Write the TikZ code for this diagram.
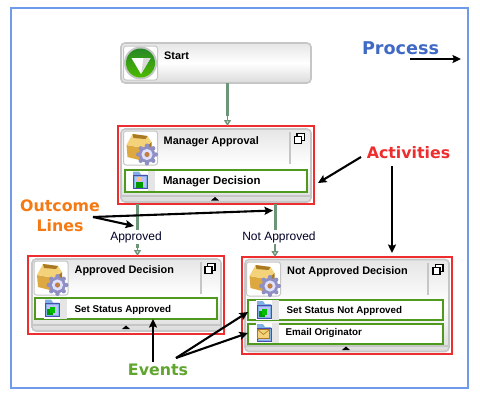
\documentclass[tikz,border=0pt]{standalone}
\usepackage{fontspec}
\setmainfont{Liberation Sans}
\newfontfamily\callfont{DejaVu Sans}
\usetikzlibrary{arrows.meta,calc}
\definecolor{frameblue}{HTML}{6F9BEA}
\definecolor{procblue}{HTML}{3F69C4}
\definecolor{actred}{HTML}{EE2E2E}
\definecolor{evgreen}{HTML}{5FA52E}
\definecolor{outorange}{HTML}{F57A14}
\definecolor{linegreen}{HTML}{6D9679}
\definecolor{boxgreen}{HTML}{4F9A1E}
\definecolor{boxgrey}{HTML}{C6C6C6}
\definecolor{goldmid}{HTML}{DDA83F}
\definecolor{goldlight}{HTML}{F3D27A}
\definecolor{golddark}{HTML}{A97A22}
\definecolor{gearblue}{HTML}{8F8FC4}
\definecolor{folderblue}{HTML}{7FB0E4}
\tikzset{
  greybox/.style={draw=boxgrey,line width=1.6pt,rounded corners=4pt,top color=gray!20,bottom color=gray!28,middle color=white,inner sep=0pt},
  redframe/.style={draw=actred,line width=2pt,inner sep=0pt},
  eventbox/.style={draw=boxgreen,line width=2pt,fill=white,inner sep=0pt},
  iconframe/.style={draw=boxgrey,line width=1pt,fill=white,rounded corners=2.5pt},
  title/.style={font=\bfseries\fontsize{10.9}{13}\selectfont,anchor=west,inner sep=0pt,text=black},
  evtext/.style={font=\bfseries\fontsize{9.8}{12}\selectfont,anchor=west,inner sep=0pt,text=black},
  flow/.style={draw=linegreen,line width=3pt},
  flowarrow/.style={draw=linegreen,line width=1.4pt,-{Triangle[open,length=6pt,width=7pt]}},
  flowlabel/.style={font=\fontsize{12}{14}\selectfont,inner sep=0pt,text=black!85!blue},
  callout/.style={draw=black,line width=2.1pt,-{Stealth[length=8.5pt,width=8pt,inset=1.5pt]}},
  calltext/.style={font=\callfont\bfseries\fontsize{15.8}{20}\selectfont,inner sep=0pt,align=center},
  startglyph/.pic={
    \draw[iconframe] (-17,-17) rectangle (17,17);
    \fill[gray!45] (0,0) circle (16.5);
    \shade[top color=green!45!black!85,bottom color=green!55!black!60!lime] (0,0) circle (14.5);
    \fill[white] (-9,-5) -- (10,-5) -- (0.5,11) -- cycle;
    \fill[gray!30] (3,-5) -- (10,-5) -- (0.5,11) -- cycle;
  },
  caseglyph/.pic={
    \draw[iconframe] (-17,-17) rectangle (17,17);
    \fill[goldmid] (-14,-3) -- (3,0) -- (3,13) -- (-13,9) -- cycle;
    \fill[golddark] (3,0) -- (11,-6) -- (11,7) -- (3,13) -- cycle;
    \fill[goldlight] (-14,-3) -- (-8,-14) -- (7,-12) -- (11,-6) -- (3,0) -- cycle;
    \fill[golddark] (-8,-14) -- (7,-12) -- (5,-9) -- (-7,-10) -- cycle;
  },
  gearglyph/.pic={
    \foreach \a in {0,45,...,315}{\fill[gearblue] (\a:8.8) circle (2.2);}
    \fill[gearblue] (0,0) circle (8.2);
    \fill[blue!12] (0,0) circle (5.6);
    \fill[orange!50!gray] (0,0) circle (2.6);
  },
  folderglyph/.pic={
    \fill[gray!20] (-8,-10) rectangle (15,10);
    \fill[white] (-8,-10) rectangle (8,10);
    \fill[folderblue] (-7,-9) -- (-1,-9) -- (1,-6) -- (7,-6) -- (7,8) -- (-7,8) -- cycle;
    \draw[blue!40!gray,line width=.7pt] (-7,-5) rectangle (7,8);
    \fill[white!75!blue] (-5.5,-3.5) rectangle (5.5,6.5);
  },
  statusmark/.pic={
    \fill[green!60!black] (-5,-1) rectangle (1,5);
    \fill[green!75!black] (-2,-3) rectangle (3,3);
  },
  personmark/.pic={
    \fill[orange!50!white] (0,-2.5) circle (2.4);
    \fill[green!60!black] (-3.5,0) rectangle (3.5,6.5);
  },
  mailmark/.pic={
    \fill[goldlight] (-6,-4.5) rectangle (6,4.5);
    \draw[golddark,line width=.6pt] (-6,-4.5) rectangle (6,4.5) (-6,-4.5) -- (0,.5) -- (6,-4.5);
  },
  maximize/.pic={
    \draw[black,line width=1.4pt,fill=white] (-2.5,-5) rectangle (5,2);
    \draw[black,line width=1.4pt,fill=white] (-5,-2) rectangle (2,5);
  }
}
\begin{document}
\begin{tikzpicture}[x=1pt,y=-1pt]
\useasboundingbox (0,0) rectangle (480,400);
\fill[white] (0,0) rectangle (480,400);
\node[draw=frameblue,line width=2.6pt,minimum width=457pt,minimum height=380pt,inner sep=0pt] (process) at (239.5,198) {};

% Start
\node[greybox,minimum width=190pt,minimum height=40pt] (start) at (216,63) {};
\pic at (140.5,63) {startglyph};
\node[title] (starttxt) at (164,56) {Start};

% Manager Approval
\node[redframe,minimum width=196pt,minimum height=78pt] (mgrframe) at (216,165) {};
\node[greybox,minimum width=190pt,minimum height=73pt] (mgr) at (216,165.5) {};
\draw[boxgrey,line width=1.2pt] (121,196) -- (311,196);
\draw[boxgrey,line width=1.4pt] (290,132) -- (290,164);
\pic at (299.5,138.5) {maximize};
\pic at (140.5,148) {caseglyph};
\pic at (147,154.5) {gearglyph};
\node[title] (mgrtxt) at (163.5,141.5) {Manager Approval};
\node[eventbox,minimum width=182pt,minimum height=22pt] (mgrev) at (216,181) {};
\pic at (140,180.5) {folderglyph};
\pic at (139.5,181.5) {personmark};
\node[evtext,font=\bfseries\fontsize{11.4}{13}\selectfont] (mgrevtxt) at (162.8,182) {Manager Decision};
\fill[black] (211,200.5) -- (215,197) -- (219,200.5) -- cycle;

% Approved Decision
\node[redframe,minimum width=196pt,minimum height=78pt] (appframe) at (126,295) {};
\node[greybox,minimum width=189pt,minimum height=72pt] (app) at (126.5,295) {};
\draw[boxgrey,line width=1.2pt] (32,325) -- (221,325);
\draw[boxgrey,line width=1.4pt] (201,262) -- (201,294);
\pic at (210,268.5) {maximize};
\pic at (51,278) {caseglyph};
\pic at (57.5,285) {gearglyph};
\node[title] (apptxt) at (74.5,271) {Approved Decision};
\node[eventbox,minimum width=182pt,minimum height=21pt] (appev) at (126,308.5) {};
\pic at (52,308.5) {folderglyph};
\pic at (51.5,310) {statusmark};
\node[evtext] (appevtxt) at (74.5,309.5) {Set Status Approved};
\fill[black] (122,329) -- (126,325.5) -- (130,329) -- cycle;

% Not Approved Decision
\node[redframe,minimum width=210pt,minimum height=97pt] (notframe) at (347,305.5) {};
\node[greybox,minimum width=204pt,minimum height=92pt] (not) at (347,305.5) {};
\draw[boxgrey,line width=1.2pt] (245,346) -- (449,346);
\draw[boxgrey,line width=1.4pt] (428,263) -- (428,295);
\pic at (438,269.5) {maximize};
\pic at (263.5,279) {caseglyph};
\pic at (270,286) {gearglyph};
\node[title] (nottxt) at (287,272) {Not Approved Decision};
\node[eventbox,minimum width=195pt,minimum height=20pt] (notev1) at (345.5,310) {};
\pic at (264,310) {folderglyph};
\pic at (263.5,311.5) {statusmark};
\node[evtext] (notev1txt) at (286.5,310.5) {Set Status Not Approved};
\node[eventbox,minimum width=195pt,minimum height=20pt] (notev2) at (345.5,333.5) {};
\pic at (264,333) {folderglyph};
\pic at (263.5,334) {mailmark};
\node[evtext] (notev2txt) at (285.5,332.5) {Email Originator};
\fill[black] (342,350) -- (346,346.5) -- (350,350) -- cycle;

% Flow connectors
\coordinate (s0) at (227.5,83);
\coordinate (s1) at (227.5,116);
\coordinate (s2) at (227.5,126);
\draw[flow] (s0) -- (s1);
\draw[flowarrow] (s1) -- (s2);

\coordinate (a1) at (137.5,204);
\coordinate (a2) at (137.5,245);
\coordinate (a3) at (137.5,256);
\node[flowlabel] (applbl) at (136,237) {Approved};
\draw[flow] (a1) -- (137.5,230);
\draw[flow,line width=2.4pt] (137.5,244) -- (137.5,248);
\draw[flowarrow] (a2) -- (a3);

\coordinate (b1) at (275,204);
\coordinate (b2) at (275,245);
\coordinate (b3) at (275,257);
\node[flowlabel] (notlbl) at (279,237) {Not Approved};
\draw[flow] (b1) -- (275,230);
\draw[flow,line width=2.4pt] (275,244) -- (275,249);
\draw[flowarrow] (b2) -- (b3);

% Callout labels
\node[calltext,text=procblue,font=\callfont\bfseries\fontsize{17.6}{20}\selectfont] (proclbl) at (400.5,48) {Process};
\node[calltext,text=actred] (actlbl) at (408.5,153) {Activities};
\node[calltext,text=outorange,align=center] (outlbl) at (60,215.5) {Outcome\\Lines};
\node[calltext,text=evgreen] (evlbl) at (158,370) {Events};

% Callout arrows
\coordinate (p0) at (410,59); \coordinate (p1) at (461,59);
\draw[callout] (p0) -- (p1);
\coordinate (c0) at (361,157); \coordinate (c1) at (318,183);
\draw[callout] (c0) -- (c1);
\coordinate (d0) at (392,166); \coordinate (d1) at (392,253);
\draw[callout] (d0) -- (d1);
\coordinate (o0) at (93,217); \coordinate (o1) at (134,226); \coordinate (o2) at (273,210.5);
\draw[callout] (o0) -- (o1);
\draw[callout] (o0) -- (o2);
\coordinate (e0) at (153,362); \coordinate (e1) at (153,319);
\draw[callout] (e0) -- (e1);
\coordinate (f0) at (176,358); \coordinate (f1) at (248,312); \coordinate (f2) at (248,333);
\draw[callout] (f0) -- (f1);
\draw[callout] (f0) -- (f2);
\end{tikzpicture}
\end{document}
